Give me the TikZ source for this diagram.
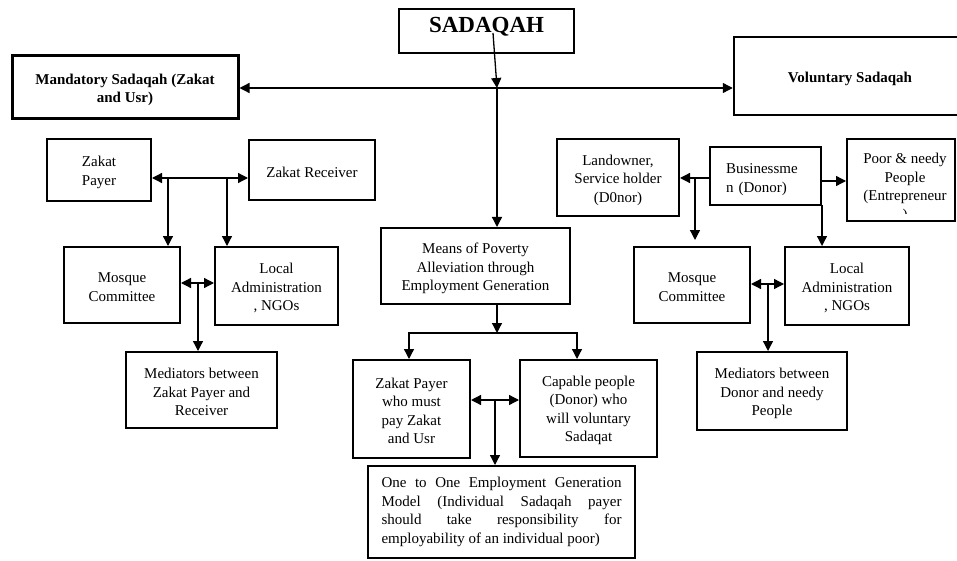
\documentclass[tikz,border=0pt]{standalone}
\usepackage{fontspec}
\setmainfont{Liberation Serif}
\usetikzlibrary{arrows.meta}
\newcommand\bodyfont{\fontsize{15}{18.5}\selectfont}
\newcommand\headfont{\fontsize{15}{18}\selectfont\bfseries}
\newcommand\titlefont{\fontsize{23}{27}\selectfont\bfseries}
% invisible prop that lowers the text block slightly inside its box
\newcommand\lift[1]{\rule{0pt}{#1}}
\begin{document}
\begin{tikzpicture}[x=1pt,y=-1pt,
  box/.style={draw, line width=2pt, align=center, inner sep=0pt, font=\bodyfont},
  tip/.tip={Triangle[length=10pt,width=10pt]},
  link/.style={line width=1.3pt},
  arr/.style={link, -tip},
  darr/.style={link, tip-tip}]
\useasboundingbox (0,0) rectangle (957,561);
\fill[white] (0,0) rectangle (957,561);

% ---- top level ----
\node[draw, line width=1.2pt, minimum width=175pt, minimum height=44pt] (sad) at (486.5,31) {};
\node[font=\titlefont, inner sep=0pt] (sadT) at (486.5,26.5) {SADAQAH};
\node[box, line width=3pt, font=\headfont, minimum width=226pt, minimum height=63pt] (mand) at (125,87.5) {\lift{14.5pt}Mandatory Sadaqah (Zakat\\and Usr)};
\node[box, line width=2.5pt, font=\headfont, minimum width=232pt, minimum height=78pt] (vol) at (850,76) {\lift{16pt}Voluntary Sadaqah};

% ---- mandatory branch ----
\node[box, minimum width=104pt, minimum height=62pt] (zp) at (99,170) {\lift{15.5pt}Zakat\\Payer};
\node[box, minimum width=126pt, minimum height=60pt] (zr) at (312,170) {\lift{15pt}Zakat Receiver};
\node[box, minimum width=116pt, minimum height=76pt] (mc) at (122,285) {\lift{14.5pt}Mosque\\Committee};
\node[box, minimum width=123pt, minimum height=78pt] (la) at (276.5,286) {\lift{15pt}Local\\Administration\\, NGOs};
\node[box, minimum width=151pt, minimum height=76pt] (med) at (201.5,390) {\lift{15pt}Mediators between\\Zakat Payer and\\Receiver};

% ---- centre column ----
\node[box, minimum width=189pt, minimum height=76pt] (means) at (475.5,266) {\lift{15.5pt}Means of Poverty\\Alleviation through\\Employment Generation};
\node[box, minimum width=117pt, minimum height=98pt] (zpm) at (411.5,409) {\lift{14pt}Zakat Payer\\who must\\pay Zakat\\and Usr};
\node[box, minimum width=137pt, minimum height=97pt] (cap) at (588.5,408.5) {\lift{14pt}Capable people\\(Donor) who\\will voluntary\\Sadaqat};
\node[box, minimum width=267pt, minimum height=92pt, align=left] (one) at (501.5,512) {%
  \makebox[240pt][s]{One to One Employment Generation}\\
  \makebox[240pt][s]{Model (Individual Sadaqah payer}\\
  \makebox[240pt][s]{should take responsibility for}\\
  employability of an individual poor)};

% ---- voluntary branch ----
\node[box, minimum width=122pt, minimum height=77pt] (lo) at (618,177.5) {\lift{16pt}Landowner,\\Service holder\\(D0nor)};
\node[box, minimum width=111pt, minimum height=58pt, text width=79pt, inner xsep=16pt, align=left] (bus) at (765.5,176) {\lift{17.5pt}Businessme\\n (Donor)};
\node[draw, line width=2pt, minimum width=108pt, minimum height=82pt] (poor) at (901,180) {};
\begin{scope}
  \clip (849,141) rectangle (953,214);
  \node[font=\bodyfont, align=center, inner sep=0pt] (poorT) at (905,188) {Poor \& needy\\People\\(Entrepreneur\\)};
\end{scope}
\node[box, minimum width=116pt, minimum height=76pt] (mcr) at (692,285) {\lift{14.5pt}Mosque\\Committee};
\node[box, minimum width=124pt, minimum height=78pt] (lar) at (847,286) {\lift{15pt}Local\\Administration\\, NGOs};
\node[box, minimum width=150pt, minimum height=78pt] (medr) at (772,391) {\lift{16pt}Mediators between\\Donor and needy\\People};

% ---- junction points ----
\coordinate (sadOut) at (493,33);
\coordinate (hub) at (497,88);
\coordinate (l1) at (168,178);
\coordinate (l2) at (227,178);
\coordinate (lm) at (198,283);
\coordinate (mb) at (497,333);
\coordinate (ml) at (409,333);
\coordinate (mr) at (577,333);
\coordinate (cm) at (495,400);
\coordinate (r1) at (695,178);
\coordinate (r2) at (834,181);
\coordinate (r3) at (822,205);
\coordinate (rm) at (768,284);

% ---- connectors ----
\draw[arr] (sadOut) -- (hub);
\draw[darr] (mand.east |- hub) -- (vol.west |- hub);
\draw[arr] (hub) -- (hub |- means.north);

\draw[darr] (zp.east |- l1) -- (zr.west |- l1);
\draw[arr] (l1) -- (l1 |- mc.north);
\draw[arr] (l2) -- (l2 |- la.north);
\draw[darr] (mc.east |- lm) -- (la.west |- lm);
\draw[arr] (lm) -- (lm |- med.north);

\draw[arr] (mb |- means.south) -- (mb);
\draw[darr] (ml |- zpm.north) -- (ml) -- (mr) -- (mr |- cap.north);
\draw[darr] (zpm.east |- cm) -- (cap.west |- cm);
\draw[arr] (cm) -- (cm |- one.north);

\draw[arr] (bus.west |- r1) -- (lo.east |- r1);
\draw[arr, shorten >=6pt] (r1) -- (r1 |- mcr.north);
\draw[arr] (bus.east |- r2) -- (poor.west |- r2);
\draw[arr] (r3) -- (r3 |- lar.north);
\draw[darr] (mcr.east |- rm) -- (lar.west |- rm);
\draw[arr] (rm) -- (rm |- medr.north);
\end{tikzpicture}
\end{document}
